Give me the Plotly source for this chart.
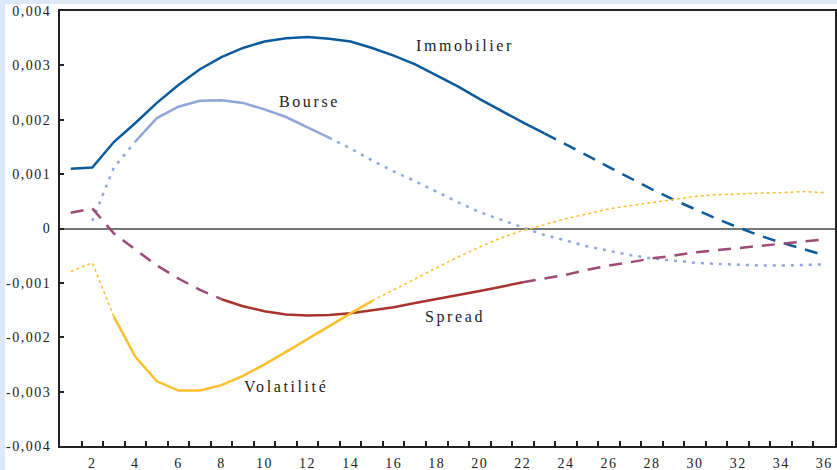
import plotly.graph_objects as go

# ---------------- data (values in units of 1e-3) ----------------
periods = list(range(1, 37))

immobilier = [1.10, 1.12, 1.59, 1.94, 2.31, 2.64, 2.93, 3.15, 3.32, 3.44,
              3.50, 3.52, 3.49, 3.44, 3.32, 3.18, 3.02, 2.82, 2.61, 2.38,
              2.16, 1.95, 1.75, 1.55, 1.34, 1.13, 0.92, 0.72, 0.53, 0.35,
              0.18, 0.02, -0.13, -0.26, -0.38, -0.49]

bourse = [None, 0.14, 1.12, 1.60, 2.03, 2.24, 2.35, 2.36, 2.31, 2.19,
          2.05, 1.86, 1.67, 1.47, 1.25, 1.05, 0.87, 0.67, 0.48, 0.30,
          0.16, 0.02, -0.12, -0.22, -0.33, -0.41, -0.49, -0.55, -0.59, -0.63,
          -0.65, -0.67, -0.68, -0.68, -0.67, -0.66]

spread = [0.29, 0.37, -0.09, -0.39, -0.68, -0.92, -1.13, -1.30, -1.43, -1.52,
          -1.58, -1.60, -1.59, -1.56, -1.51, -1.45, -1.37, -1.30, -1.23, -1.15,
          -1.07, -0.99, -0.92, -0.85, -0.76, -0.68, -0.62, -0.55, -0.50, -0.44,
          -0.40, -0.36, -0.31, -0.27, -0.23, -0.20]

volatilite = [-0.79, -0.63, -1.62, -2.36, -2.81, -2.98, -2.98, -2.88, -2.71, -2.50,
              -2.27, -2.03, -1.79, -1.56, -1.33, -1.13, -0.93, -0.72, -0.52, -0.34,
              -0.17, -0.04, 0.07, 0.18, 0.27, 0.36, 0.42, 0.48, 0.54, 0.59,
              0.62, 0.64, 0.65, 0.66, 0.68, 0.66]

y_tickvals = [-0.004, -0.003, -0.002, -0.001, 0, 0.001, 0.002, 0.003, 0.004]
y_ticktext = ["-0,004", "-0,003", "-0,002", "-0,001", "0", "0,001", "0,002", "0,003", "0,004"]
x_tickvals = list(range(2, 37, 2))
x_ticktext = [str(v) for v in x_tickvals]

label_names = ["Immobilier", "Bourse", "Spread", "Volatilité"]
label_x = [19.3, 12.1, 18.85, 11.0]
label_y = [3.36e-3, 2.33e-3, -1.63e-3, -2.90e-3]

# ---------------- styles ----------------
C_IMMO = "#0b5b9c"
C_BOURSE = "#8ea7d8"
C_SPREAD_SOLID = "#a8342c"
C_SPREAD_DASH = "#9c4a76"
C_VOL = "#fdbf2a"

DASH_LONG = "13px,9px"
DASH_SQ = "3px,6px"

# (series, first period, last period, color, width, dash)
segments = [
    (immobilier, 1, 23, C_IMMO, 2.5, "solid"),
    (immobilier, 23, 36, C_IMMO, 2.5, DASH_LONG),
    (bourse, 2, 4, C_BOURSE, 2.5, DASH_SQ),
    (bourse, 4, 13, C_BOURSE, 2.5, "solid"),
    (bourse, 13, 36, C_BOURSE, 2.5, DASH_SQ),
    (spread, 1, 8, C_SPREAD_DASH, 2.5, DASH_LONG),
    (spread, 8, 22, C_SPREAD_SOLID, 2.5, "solid"),
    (spread, 22, 36, C_SPREAD_DASH, 2.5, DASH_LONG),
    (volatilite, 1, 3, C_VOL, 1.5, "dot"),
    (volatilite, 3, 15, C_VOL, 2.5, "solid"),
    (volatilite, 15, 36, C_VOL, 1.5, "dot"),
]

fig = go.Figure()
for series, a, b, color, width, dash in segments:
    xs = periods[a - 1:b]
    ys = [v * 1e-3 for v in series[a - 1:b]]
    fig.add_trace(go.Scatter(x=xs, y=ys, mode="lines",
                             line=dict(color=color, width=width, dash=dash),
                             showlegend=False, hoverinfo="skip"))

FONT = "Liberation Serif"
W, H = 837, 470
L, R, T, B = 60, 2, 11, 24
pw, ph = W - L - R, H - T - B


def spaced(s, px):
    return '<span style="letter-spacing:%spx">%s</span>' % (px, s)


for txt, x, y in zip(label_names, label_x, label_y):
    fig.add_annotation(x=x, y=y, text=spaced(txt, 2.6),
                       showarrow=False, font=dict(family=FONT, size=16, color="#222"))

# white panel over light-blue page edge
fig.add_shape(type="rect", xref="paper", yref="paper",
              x0=(5 - L) / pw, x1=(W + 5 - L) / pw,
              y0=-(B + 10) / ph, y1=(H - B - 4) / ph,
              fillcolor="white", line=dict(width=0), layer="below")

fig.update_layout(
    width=W, height=H,
    margin=dict(l=L, r=R, t=T, b=B, autoexpand=False),
    paper_bgcolor="#dde9f8",
    plot_bgcolor="white",
    font=dict(family=FONT, size=14, color="#222"),
    showlegend=False,
)
fig.update_xaxes(range=[0.5, 36.5], tickvals=x_tickvals,
                 ticktext=[spaced(t, 1.5) for t in x_ticktext], ticks="",
                 showgrid=False, zeroline=False, ticklabelstandoff=3, automargin=False,
                 showline=True, linecolor="#222", linewidth=2, mirror=True,
                 tickfont=dict(family=FONT, size=14, color="#222"),
                 minor=dict(tickvals=[i + 0.5 for i in range(1, 36)], ticks="inside",
                            ticklen=5, tickcolor="#222", tickwidth=1.5, showgrid=False))
fig.update_yaxes(range=[-0.004, 0.004], tickvals=y_tickvals,
                 ticktext=[spaced(t, 1.5) for t in y_ticktext],
                 ticks="inside", ticklen=4, tickcolor="#222", tickwidth=1.5,
                 showgrid=False, zeroline=True, zerolinecolor="#777", zerolinewidth=1.5,
                 ticklabelstandoff=4, automargin=False,
                 showline=True, linecolor="#222", linewidth=2, mirror=True,
                 tickfont=dict(family=FONT, size=14, color="#222"))

fig.write_html("out.html", config={"displayModeBar": False},
               post_script="document.body.style.margin='0';")
